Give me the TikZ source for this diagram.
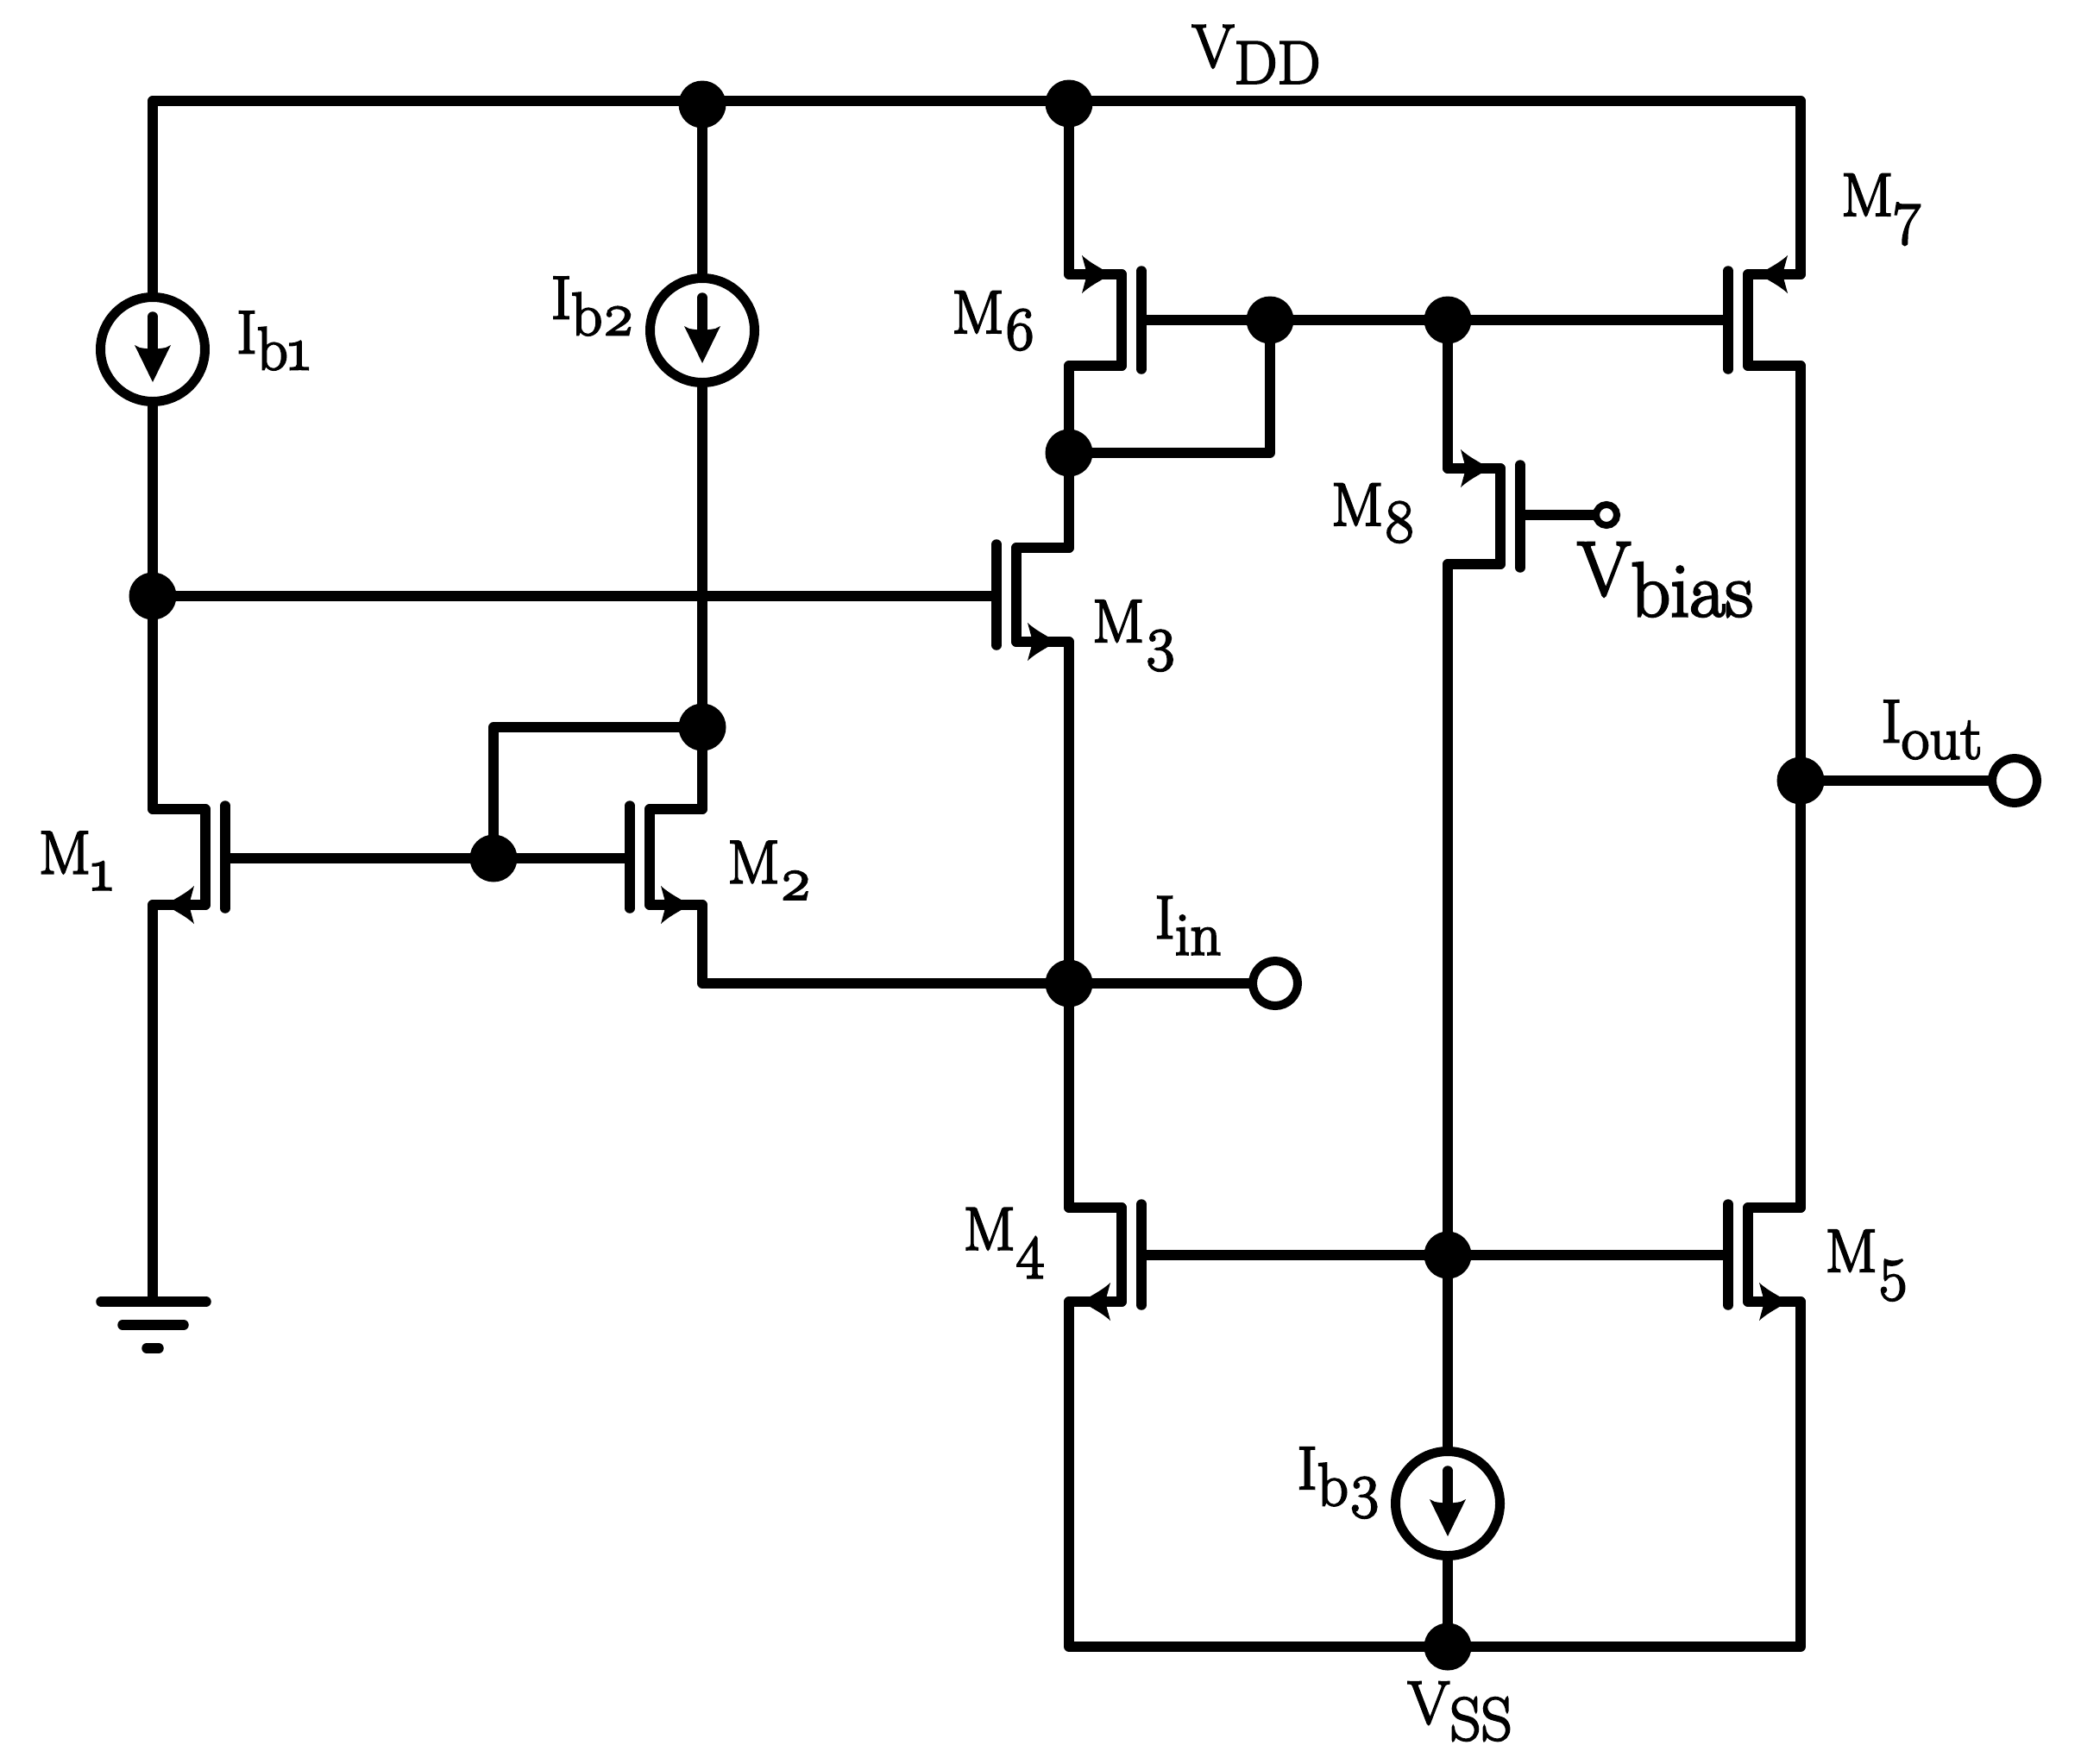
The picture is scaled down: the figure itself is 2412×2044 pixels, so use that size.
\documentclass[tikz,border=0pt]{standalone}
\usepackage{fontspec}
\setmainfont{Latin Modern Roman}[Numbers=OldStyle,FakeBold=3]
\tikzset{
  wire/.style={line width=11.5bp,line join=round,line cap=round},
  dot/.style={circle,fill=black,inner sep=0pt,minimum size=55bp},
  source/.style={circle,draw,line width=11bp,fill=white,inner sep=0pt,minimum size=121bp},
  port/.style={circle,draw,line width=10bp,fill=white,inner sep=0pt,minimum size=52bp},
  smallport/.style={circle,draw,line width=8bp,fill=white,inner sep=0pt,minimum size=24bp},
  lbl/.style={inner sep=0pt,font=\fontsize{71}{76}\selectfont},
  biglbl/.style={inner sep=0pt,font=\fontsize{90}{96}\selectfont},
  headtip/.pic={\fill (0,0) .. controls (-8,-7) and (-20,-11) .. (-32,-22) -- (-26,0) -- (-32,22) .. controls (-20,11) and (-8,7) .. (0,0);},
  sourcetip/.pic={\fill (0,0) -- (-43,-21) .. controls (-40,-17) .. (-38,0) .. controls (-40,17) .. (-43,21) -- cycle;}
}
\newcommand{\sub}[1]{\raisebox{-0.27em}{#1}}
% name, wire x, side, top y, bottom y, gate y
\newcommand{\mosbody}[6]{
\coordinate (#1t) at (#2,#4);
\coordinate (#1b) at (#2,#5);
\coordinate (#1ct) at (#2+61*#3,#4);
\coordinate (#1cb) at (#2+61*#3,#5);
\coordinate (#1g) at (#2+84*#3,#6);
\coordinate (#1gt) at (#2+84*#3,#4-4);
\coordinate (#1gb) at (#2+84*#3,#5+4);
\draw [wire] (#1ct) -- (#1cb);
\draw [wire] (#1gt) -- (#1gb);
\draw [wire] (#1t) -- (#1ct);
\draw [wire] (#1b) -- (#1cb);
}
\newcommand{\nmos}[6]{
\mosbody{#1}{#2}{#3}{#4}{#5}{#6}
\pic at (#2+16*#3,#5) [rotate={90+90*#3}] {headtip};
}
\newcommand{\pmos}[6]{
\mosbody{#1}{#2}{#3}{#4}{#5}{#6}
\pic at (#2+47*#3,#4) [rotate={90-90*#3}] {headtip};
}
\begin{document}
\begin{tikzpicture}[x=1bp,y=-1bp]
\useasboundingbox (0,0) rectangle (2412,2044);
% rails
\coordinate (railL) at (177,117);
\coordinate (railR) at (2087,117);
\coordinate (gnd) at (177,1509);
\coordinate (botL) at (1239,1909);
\coordinate (botR) at (2087,1909);
\node (d1) at (814,121)[dot] {};
\node (d2) at (1239,120)[dot] {};
\node (d3) at (177,691)[dot] {};
\node (d4) at (814,843)[dot] {};
\node (d5) at (572,995)[dot] {};
\node (d6) at (1239,1140)[dot] {};
\node (d7) at (1239,525)[dot] {};
\node (d8) at (1472,371)[dot] {};
\node (d9) at (1678,371)[dot] {};
\node (d10) at (2087,905)[dot] {};
\node (d11) at (1678,1455)[dot] {};
\node (d12) at (1678,1909)[dot] {};
\node (Iin) at (1478,1140)[port] {};
\node (Iout) at (2335,905)[port] {};
\node (Vb) at (1862,597)[smallport] {};
% transistors
\nmos{M1}{177}{1}{938}{1049}{995}
\nmos{M2}{814}{-1}{938}{1049}{995}
\nmos{M3}{1239}{-1}{635}{744}{691}
\nmos{M4}{1239}{1}{1400}{1509}{1455}
\nmos{M5}{2087}{-1}{1400}{1509}{1455}
\pmos{M6}{1239}{1}{318}{424}{371}
\pmos{M7}{2087}{-1}{318}{424}{371}
\pmos{M8}{1678}{1}{543}{654}{597}
% wires
\draw [wire] (railL) -- (railR);
\draw [wire] (railL) -- (M1t);
\draw [wire] (d1) -- (M2t);
\draw [wire] (d2) -- (M6t);
\draw [wire] (railR) -- (M7t);
\draw [wire] (M7b) -- (M5t);
\draw [wire] (M6b) -- (M3t);
\draw [wire] (M3b) -- (M4t);
\draw [wire] (M1b) -- (gnd);
\draw [wire] (M5b) -- (botR) -- (botL) -- (M4b);
\draw [wire] (d3) -- (M3g);
\draw [wire] (M1g) -- (d5);
\draw [wire] (d5) -- (M2g);
\draw [wire] (d5) |- (d4);
\draw [wire] (M2b) |- (d6);
\draw [wire] (d6) -- (Iin);
\draw [wire] (d7) -| (d8);
\draw [wire] (M6g) -- (M7g);
\draw [wire] (d9) -- (M8t);
\draw [wire] (M8b) -- (d12);
\draw [wire] (M4g) -- (M5g);
\draw [wire] (M8g) -- (Vb);
\draw [wire] (d10) -- (Iout);
% current sources
\node (Ib1) at (177,405)[source] {};
\node (Ib2) at (814,383)[source] {};
\node (Ib3) at (1678,1743)[source] {};
\coordinate (Ib1t) at (177,367);
\coordinate (Ib1h) at (177,405);
\coordinate (Ib2t) at (814,345);
\coordinate (Ib2h) at (814,383);
\coordinate (Ib3t) at (1678,1705);
\coordinate (Ib3h) at (1678,1743);
\draw [wire] (Ib1t) -- (Ib1h);
\draw [wire] (Ib2t) -- (Ib2h);
\draw [wire] (Ib3t) -- (Ib3h);
\pic at (177,443) [rotate=-90] {sourcetip};
\pic at (814,421) [rotate=-90] {sourcetip};
\pic at (1678,1781) [rotate=-90] {sourcetip};
% ground
\coordinate (g1l) at (117,1509);
\coordinate (g1r) at (239,1509);
\coordinate (g2l) at (142,1536);
\coordinate (g2r) at (213,1536);
\coordinate (g3l) at (170,1563);
\coordinate (g3r) at (184,1563);
\draw [wire] (g1l) -- (g1r);
\draw [wire] (g2l) -- (g2r);
\draw [wire] (g3l) -- (g3r);
% labels
\node (lM1) at (88,998)[lbl] {M\sub{1}};
\node (lM2) at (892,1009)[lbl] {M\sub{2}};
\node (lM3) at (1315,737)[lbl] {M\sub{3}};
\node (lM4) at (1164,1441)[lbl] {M\sub{4}};
\node (lM5) at (2164,1467)[lbl] {M\sub{5}};
\node (lM6) at (1152,372)[lbl] {M\sub{6}};
\node (lM7) at (2181,243)[lbl] {M\sub{7}};
\node (lM8) at (1592,595)[lbl] {M\sub{8}};
\node (lIb1) at (317,395)[lbl] {I\sub{b1}};
\node (lIb2) at (687,355)[lbl] {I\sub{b2}};
\node (lIb3) at (1552,1719)[lbl] {I\sub{b3}};
\node (lIin) at (1377,1073)[lbl] {I\sub{in}};
\node (lIout) at (2239,846)[lbl] {I\sub{out}};
\node (lVDD) at (1456,63)[lbl] {V\sub{DD}};
\node (lVSS) at (1692,1984)[lbl] {V\sub{SS}};
\node (lVb) at (1930,672)[biglbl] {V\sub{bias}};
\end{tikzpicture}
\end{document}
